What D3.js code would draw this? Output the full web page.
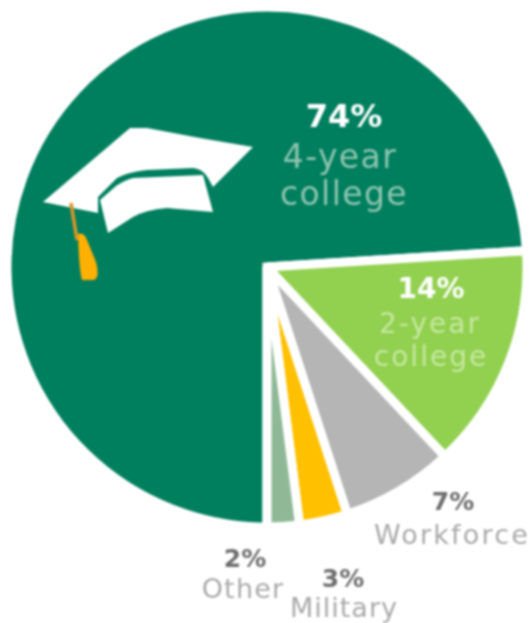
<!DOCTYPE html>
<html>
<head>
<meta charset="utf-8">
<script src="https://cdn.jsdelivr.net/npm/d3@7"></script>
<style>
html, body { margin: 0; padding: 0; background: #fff; }
svg { display: block; filter: blur(1.1px); }
text { font-family: "DejaVu Sans", sans-serif; text-anchor: middle; }
</style>
</head>
<body>
<div id="chart"></div>
<script>
// values as printed on the graphic
var categories = ['4-year college', '2-year college', 'Workforce', 'Military', 'Other'];
var shares = [74, 14, 7, 3, 2];
var colors = ['#007f5f', '#92d050', '#b5b5b5', '#ffc000', '#8fb996'];

var width = 532, height = 623;
var cx = 267, cy = 267, radius = 260;

var svg = d3.select('#chart').append('svg')
    .attr('width', width)
    .attr('height', height);

var pie = d3.pie()
    .sort(null)
    .startAngle(Math.PI)
    .endAngle(3 * Math.PI);

var arc = d3.arc().innerRadius(0).outerRadius(radius);

var g = svg.append('g').attr('transform', 'translate(' + cx + ',' + cy + ')');

g.selectAll('path')
    .data(pie(shares))
    .enter().append('path')
    .attr('d', arc)
    .attr('fill', function(d, i) { return colors[i]; })
    .attr('stroke', '#fff')
    .attr('stroke-width', 9)
    .attr('stroke-linejoin', function(d, i) { return i == 0 ? 'miter' : 'bevel'; });

// mortarboard icon
var cap = svg.append('g');
cap.append('path')
    .attr('fill', '#fff')
    .attr('d', 'M43,202 L130,128 L147,128 L200,138 L253,147 L213,187 L208,178 Q203,169 193,168 L147,170 Q128,172 117,178 L98,197 L98,213 Z');
cap.append('path')
    .attr('fill', '#fff')
    .attr('d', 'M100,200 L116,186 Q125,180 133,178 L203,175 L213,212 L167,208 Q145,210 133,217 L108,233 Z');
cap.append('path')
    .attr('fill', 'none')
    .attr('stroke', '#d9962a')
    .attr('stroke-width', 3.5)
    .attr('d', 'M71,203 L77,240');
cap.append('path')
    .attr('fill', '#ffb000')
    .attr('d', 'M78,234 Q84,232 87,240 L96,262 Q100,278 94,280 L82,280 Q79,270 78,234 Z');

var pctLabels = ['74%', '14%', '7%', '3%', '2%'];
var labelX = [344, 431, 453, 343, 245];
var labelY = [127, 298, 510, 587, 567];
var labelSize = [32, 28, 25, 25, 25];
var labelFill = ['#fff', '#fff', '#6e6e6e', '#6e6e6e', '#6e6e6e'];

svg.selectAll('text.pct')
    .data(pctLabels)
    .enter().append('text')
    .attr('class', 'pct')
    .attr('x', function(d, i) { return labelX[i]; })
    .attr('y', function(d, i) { return labelY[i]; })
    .attr('fill', function(d, i) { return labelFill[i]; })
    .attr('font-size', function(d, i) { return labelSize[i]; })
    .attr('font-weight', 'bold')
    .text(function(d) { return d; });

var nameLines = ['4-year', 'college', '2-year', 'college', 'Workforce', 'Military', 'Other'];
var nameX = [340, 344, 430, 431, 452, 344, 243];
var nameY = [168, 205, 333, 366, 544, 617, 598];
var nameSize = [33, 33, 28, 28, 27, 27, 27];
var nameSpacing = [1.4, 1.4, 2, 2, 2.2, 1, 1.2];
var nameFill = ['#8ec4ae', '#8ec4ae', '#c6e89f', '#c6e89f', '#a9a9a9', '#a9a9a9', '#a9a9a9'];

svg.selectAll('text.name')
    .data(nameLines)
    .enter().append('text')
    .attr('class', 'name')
    .attr('x', function(d, i) { return nameX[i]; })
    .attr('y', function(d, i) { return nameY[i]; })
    .attr('fill', function(d, i) { return nameFill[i]; })
    .attr('font-size', function(d, i) { return nameSize[i]; })
    .attr('letter-spacing', function(d, i) { return nameSpacing[i]; })
    .text(function(d) { return d; });
</script>
</body>
</html>
